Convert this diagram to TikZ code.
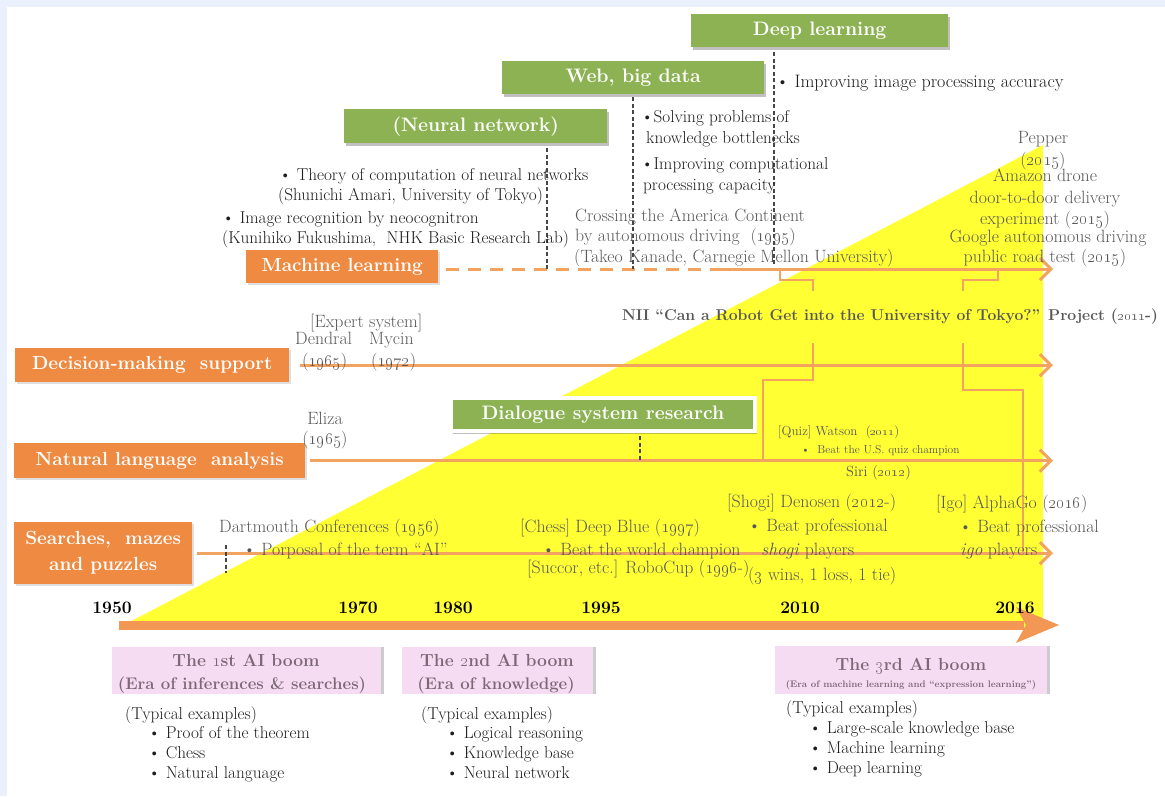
\documentclass[tikz,border=0pt]{standalone}
\usetikzlibrary{arrows.meta,shadows,calc}
\definecolor{grn}{RGB}{141,178,84}
\definecolor{org}{RGB}{238,138,66}
\definecolor{axo}{RGB}{243,152,84}
\definecolor{oline}{RGB}{243,163,96}
\definecolor{ylw}{RGB}{255,255,51}
\definecolor{pnk}{RGB}{245,220,243}
\definecolor{pnktxt}{RGB}{125,105,118}
\definecolor{gtxt}{RGB}{88,88,88}
\definecolor{btxt}{RGB}{30,30,30}
\definecolor{frm}{RGB}{234,240,252}
\definecolor{dsh}{RGB}{70,70,70}
\newcommand\fsz[2]{\fontsize{#1}{#2}\selectfont}
\newcommand\os[1]{\oldstylenums{#1}}
\begin{document}
\begin{tikzpicture}[x=1pt,y=-1pt,
  gbox/.style={fill=grn,text=white,font=\fsz{19.5}{23}\bfseries,inner sep=0pt,anchor=north west,
     drop shadow={shadow xshift=2pt,shadow yshift=-2.5pt,opacity=.35,fill=black!70}},
  obox/.style={fill=org,text=white,font=\fsz{19}{26}\bfseries,inner sep=0pt,anchor=north west,align=center,
     drop shadow={shadow xshift=1.5pt,shadow yshift=-1.5pt,opacity=.25}},
  pbox/.style={fill=pnk,inner sep=0pt,anchor=north west,
     drop shadow={shadow xshift=3pt,shadow yshift=0pt,opacity=.4,fill=gray}},
  body/.style={font=\fsz{17.2}{21},text=btxt,inner sep=0pt,anchor=base west},
  gbody/.style={font=\fsz{17.8}{21},text=gtxt,inner sep=0pt,anchor=base west},
  gc/.style={font=\fsz{17.8}{21},text=gtxt,inner sep=0pt,anchor=base},
  ptitle/.style={font=\fsz{17.5}{20}\bfseries,text=pnktxt,inner sep=0pt,anchor=base},
  yr/.style={font=\fsz{17.5}{20}\bfseries,text=black,inner sep=0pt,anchor=base},
  oarrow/.style={draw=oline,line width=3pt,-{Straight Barb[length=11pt,width=22pt]}},
  oconn/.style={draw=oline,line width=2.5pt},
  gdash/.style={draw=dsh,line width=1.2pt,dash pattern=on 4pt off 2.5pt},
]
% background and frame
\fill[frm] (0,0) rectangle (1165,796);
\fill[white] (7,7) rectangle (1165,796);
\useasboundingbox (0,0) rectangle (1165,796);

% yellow growth triangle
\fill[ylw] (118,628) -- (1043,628) -- (1043,145) -- cycle;

% green technology boxes
\node[gbox,minimum width=257pt,minimum height=33pt] (dl) at (691,14) {Deep learning};
\node[gbox,minimum width=262pt,minimum height=33pt] (web) at (502,61) {Web, big data};
\node[gbox,minimum width=263pt,minimum height=34pt] (nn) at (344,109) {(Neural network)};
\node[gbox,draw=white,line width=4pt,minimum width=304pt,minimum height=33pt] (dlg) at (449,396) {Dialogue system research};

% orange field boxes
\node[obox,minimum width=192pt,minimum height=33pt] (ml) at (246,250) {Machine learning};
\node[obox,minimum width=274pt,minimum height=34pt] (dm) at (15,348) {Decision-making\ \ support};
\node[obox,minimum width=291pt,minimum height=35pt] (nl) at (14,443) {Natural language\ \ analysis};
\node[obox,minimum width=178pt,minimum height=62pt] (sr) at (14,522) {Searches,\ \ mazes\\and puzzles};

% field arrows
\coordinate (mls) at (446,269);
\coordinate (mlsolid) at (712,269);
\coordinate (mlend) at (1053,269);
\draw[draw=oline,line width=3pt,dash pattern=on 13pt off 9pt] (mls) -- (mlsolid);
\draw[oarrow] (mlsolid) -- (mlend);
\draw[oarrow] ([xshift=11pt]dm.east) -- (dm.east -| mlend);
\draw[oarrow] ([xshift=5pt]nl.east) -- (nl.east -| mlend);
\draw[oarrow] ([xshift=5pt]sr.east) -- (sr.east -| mlend);

% dashed drop lines
\draw[gdash] ($(547,0 |- nn.south)+(0,5)$) -- (547,0 |- mls);
\draw[gdash] ($(633,0 |- web.south)+(0,3)$) -- (633,0 |- mls);
\draw[gdash] ($(774,0 |- dl.south)+(0,5)$) -- (774,266);
\draw[gdash] ($(640,0 |- dlg.south)+(0,3)$) -- (640,0 |- nl.east);
\draw[gdash] (226,545) -- (226,573);

% time axis
\coordinate (ax0) at (119,625);
\coordinate (ax1) at (1059,625);
\fill[axo] (119,620.5) rectangle (1024,629.5);
\fill[axo] (1016,607) -- (ax1) -- (1016,643) -- (1026,625) -- cycle;

% years
\node[yr] (y1950) at (112,613) {1950};
\node[yr] (y1970) at (358,613) {1970};
\node[yr] (y1980) at (453,613) {1980};
\node[yr] (y1995) at (601,613) {1995};
\node[yr] (y2010) at (800,613) {2010};
\node[yr] (y2016) at (1015,613) {2016};

% top texts
\node[body,font=\fsz{18}{21}] (ipa) at (776,87) {\textbullet\ Improving image processing accuracy};
\node[body] (sp1) at (641,122) {\textbullet Solving problems of};
\node[body] (sp2) at (646,143) {knowledge bottlenecks};
\node[body] (ic1) at (641,169) {\textbullet Improving computational};
\node[body] (ic2) at (643,190) {processing capacity};
\node[body] (th1) at (279,180) {\textbullet\ Theory of computation of neural networks};
\node[body] (th2) at (278,200) {(Shunichi Amari, University of Tokyo)};
\node[body] (ir1) at (222,223) {\textbullet\ Image recognition by neocognitron};
\node[body] (ir2) at (222,243) {(Kunihiko Fukushima,\ \ NHK Basic Research Lab)};

\node[gbody] (cr1) at (575,221) {Crossing the America Continent};
\node[gbody] (cr2) at (575,241) {by autonomous driving\ \ (\os{1995})};
\node[gbody] (cr3) at (574,262) {(Takeo Kanade, Carnegie Mellon University)};

\node[gc] (pp1) at (1043,143) {Pepper};
\node[gc] (pp2) at (1043,165) {(\os{2015})};
\node[gc] (am1) at (1045,181) {Amazon drone};
\node[gc] (am2) at (1045,203) {door-to-door delivery};
\node[gc] (am3) at (1045,224) {experiment (\os{2015})};
\node[gc] (gg1) at (1048,242) {Google autonomous driving};
\node[gc] (gg2) at (1045,262) {public road test (\os{2015})};

% NII project
\node[font=\fsz{15.7}{18}\bfseries,text=gtxt,inner sep=0pt,minimum height=52pt] (nii) at (890,317)
  {NII “Can a Robot Get into the University of Tokyo?” Project (\os{2011}-)};
\coordinate (c1) at (780,269);
\coordinate (c2) at (998,269);
\draw[oconn] (c1) -- ++(0,11) -| (813,0 |- nii.north);
\draw[oconn] (813,0 |- nii.south) |- (763,380) -- (763,0 |- nl.east);
\draw[oconn] (c2) -- ++(0,11) -| (963,0 |- nii.north);
\draw[oconn] (963,0 |- nii.south) |- (1023,390) -- (1023,0 |- sr.east);

% decision making
\node[gbody] (ex) at (310,327) {[Expert system]};
\node[gbody] (dd1) at (295,344) {Dendral};
\node[gbody] (my1) at (369,344) {Mycin};
\node[gbody] (dd2) at (302,366) {(\os{1965})};
\node[gbody] (my2) at (371,366) {(\os{1972})};

% natural language
\node[gc] (el1) at (325,424) {Eliza};
\node[gc] (el2) at (325,444) {(\os{1965})};
\node[gbody,font=\fsz{13}{14}] (wa1) at (778,435) {[Quiz] Watson\ \ (\os{2011})};
\node[gbody,font=\fsz{11.5}{14}] (wa2) at (801,453) {\textbullet\ \ Beat the U.S. quiz champion};
\node[gbody,font=\fsz{14.6}{16}] (si) at (846,476) {Siri (\os{2012})};

% searches
\node[gbody] (dc) at (219,532) {Dartmouth Conferences (\os{1956})};
\node[gbody] (pt) at (243,555) {\textbullet\ Porposal of the term “AI”};
\node[gbody] (ch1) at (520,532) {[Chess] Deep Blue (\os{1997})};
\node[gbody] (ch2) at (542,555) {\textbullet\ Beat the world champion};
\node[gbody] (ch3) at (527,573) {[Succor, etc.] RoboCup (\os{1996}-)};
\node[gbody] (sh1) at (727,507) {[Shogi] Denosen (\os{2012}-)};
\node[gbody] (sh2) at (748,531) {\textbullet\ Beat professional};
\node[gbody] (sh3) at (761,555) {\textit{shogi} players};
\node[gbody] (sh4) at (748,580) {(\os{3} wins, 1 loss, 1 tie)};
\node[gbody] (ig1) at (936,508) {[Igo] AlphaGo (\os{2016})};
\node[gbody] (ig2) at (959,532) {\textbullet\ Beat professional};
\node[gbody] (ig3) at (960,555) {\textit{igo} players};

% AI booms
\node[pbox,minimum width=269pt,minimum height=47pt] (b1) at (112,647) {};
\node[pbox,minimum width=191pt,minimum height=47pt] (b2) at (402,647) {};
\node[pbox,minimum width=272pt,minimum height=48pt] (b3) at (775,646) {};
\node[ptitle] (b1t) at (246,666) {The \os{1}st AI boom};
\node[ptitle,font=\fsz{16.8}{20}\bfseries] (b1s) at (242,689) {(Era of inferences \& searches)};
\node[ptitle] (b2t) at (497,666) {The \os{2}nd AI boom};
\node[ptitle,font=\fsz{16.8}{20}\bfseries] (b2s) at (496,689) {(Era of knowledge)};
\node[ptitle] (b3t) at (911,670) {The \os{3}rd AI boom};
\node[ptitle,font=\fsz{9.5}{12}\bfseries] (b3s) at (911,687) {(Era of machine learning and “expression learning”)};

% typical examples
\node[body] (e1) at (125,719) {(Typical examples)};
\node[body] (e1a) at (148,738) {\textbullet\ Proof of the theorem};
\node[body] (e1b) at (148,758) {\textbullet\ Chess};
\node[body] (e1c) at (148,778) {\textbullet\ Natural language};
\node[body] (e2) at (421,719) {(Typical examples)};
\node[body] (e2a) at (446,738) {\textbullet\ Logical reasoning};
\node[body] (e2b) at (446,758) {\textbullet\ Knowledge base};
\node[body] (e2c) at (446,778) {\textbullet\ Neural network};
\node[body] (e3) at (786,713) {(Typical examples)};
\node[body] (e3a) at (809,733) {\textbullet\ Large-scale knowledge base};
\node[body] (e3b) at (809,753) {\textbullet\ Machine learning};
\node[body] (e3c) at (809,773) {\textbullet\ Deep learning};
\end{tikzpicture}
\end{document}
